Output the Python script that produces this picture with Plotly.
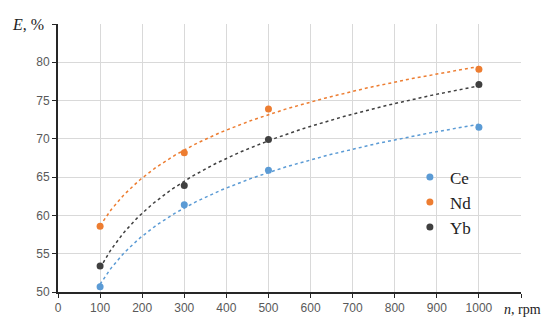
import numpy as np
import plotly.graph_objects as go

rpm = [100, 300, 500, 1000]
series_names = ["Ce", "Nd", "Yb"]
ce = [50.7, 61.4, 65.9, 71.5]
nd = [58.6, 68.2, 73.9, 79.1]
yb = [53.4, 63.9, 69.9, 77.1]
colors = ["#5b9bd5", "#ed7d31", "#404040"]
x_ticks = [0, 100, 200, 300, 400, 500, 600, 700, 800, 900, 1000, 1100]
x_labels = ["0", "100", "200", "300", "400", "500", "600", "700", "800", "900", "1000", ""]
y_ticks = [50, 55, 60, 65, 70, 75, 80, 85]
y_labels = ["50", "55", "60", "65", "70", "75", "80", ""]

fig = go.Figure()
xs = np.linspace(min(rpm), max(rpm), 200)
for name, vals, col in zip(series_names, [ce, nd, yb], colors):
    a, b = np.polyfit(np.log(rpm), vals, 1)
    fig.add_trace(go.Scatter(x=xs, y=a * np.log(xs) + b, mode="lines",
                             line=dict(color=col, width=1.5, dash="dot"),
                             showlegend=False, hoverinfo="skip"))
for name, vals, col in zip(series_names, [ce, nd, yb], colors):
    fig.add_trace(go.Scatter(x=rpm, y=vals, mode="markers", name=name,
                             marker=dict(color=col, size=7)))

axis_font = dict(family="Liberation Sans, Arial, sans-serif", size=12, color="#595959")
serif = "Liberation Serif, Times New Roman, serif"
# page body has an 8px margin, so the figure is 8px smaller and offset
fig.update_layout(
    width=542, height=313,
    margin=dict(l=50, r=29, t=16, b=29),
    paper_bgcolor="white", plot_bgcolor="white",
    legend=dict(x=0.76, y=0.495, xanchor="left", yanchor="top",
                font=dict(family=serif, size=17, color="#222"),
                bgcolor="rgba(0,0,0,0)", tracegroupgap=0),
    xaxis=dict(range=[0, 1100], tickvals=x_ticks, ticktext=x_labels,
               showgrid=True, gridcolor="#d9d9d9", gridwidth=1,
               showline=True, linecolor="#262626", linewidth=2,
               ticks="outside", ticklen=4, tickcolor="#262626", tickwidth=1,
               tickfont=axis_font, zeroline=False, automargin=False),
    yaxis=dict(range=[50, 85], tickvals=y_ticks, ticktext=y_labels,
               showgrid=True, gridcolor="#d9d9d9", gridwidth=1,
               showline=True, linecolor="#262626", linewidth=2,
               ticks="outside", ticklen=4, tickcolor="#262626", tickwidth=1,
               tickfont=axis_font, zeroline=False, automargin=False),
    annotations=[
        dict(text="<i>E</i>, %", xref="paper", yref="paper", x=-0.025, y=1.0,
             xanchor="right", yanchor="middle", showarrow=False,
             font=dict(family=serif, size=16, color="#222")),
        dict(text="<i>n</i>, rpm", xref="paper", yref="paper", x=0.96, y=-0.03,
             xanchor="left", yanchor="top", showarrow=False,
             font=dict(family=serif, size=14, color="#222")),
    ],
)
fig.write_html("out.html")
